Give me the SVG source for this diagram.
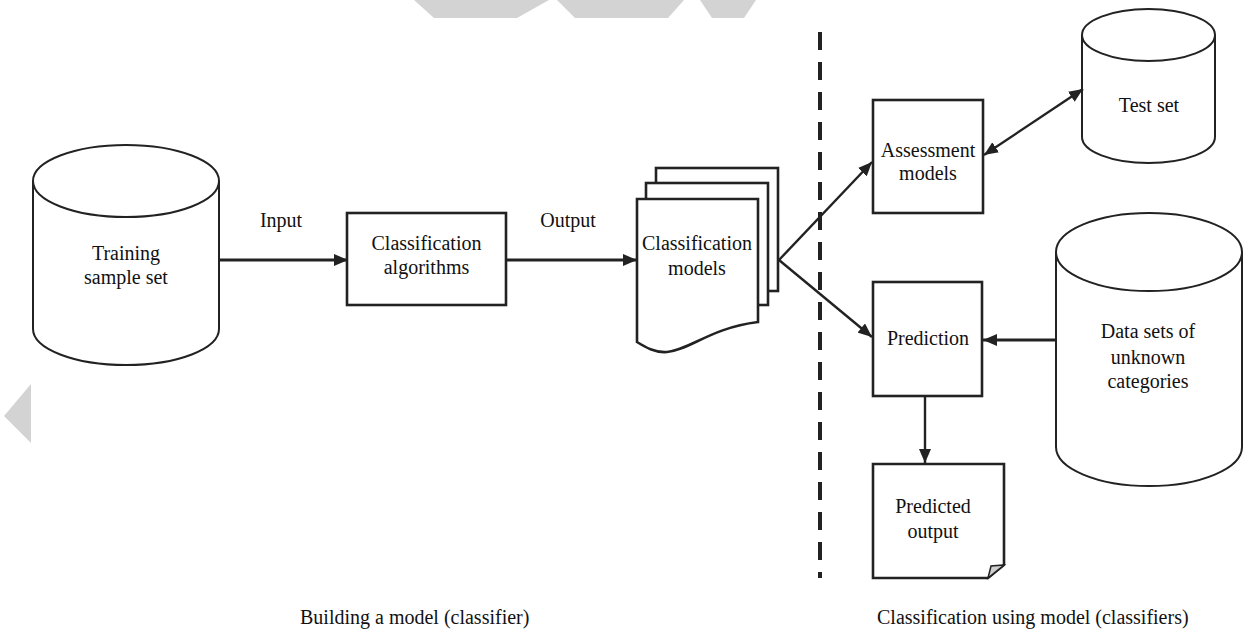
<svg xmlns="http://www.w3.org/2000/svg" width="1243" height="632" viewBox="0 0 1243 632">
<style>
  .box{fill:#fff;stroke:#222;stroke-width:2.6}
  .cyl{fill:#fff;stroke:#222;stroke-width:2}
  .t{font-family:"Liberation Serif","Times New Roman",serif;font-size:20px;fill:#111;text-anchor:middle}
  .tl{font-family:"Liberation Serif","Times New Roman",serif;font-size:20px;fill:#111}
  .c{fill:none;stroke:#222;stroke-width:2.4}
  .ch{fill:none;stroke:#222;stroke-width:3}
  .wm{fill:#d3d3d3}
</style>
<defs>
  <marker id="ah" viewBox="0 0 14 12" refX="14" refY="6" markerWidth="14" markerHeight="12" markerUnits="userSpaceOnUse" orient="auto-start-reverse">
    <path d="M0,0 L14,6 L0,12 Z" fill="#222"/>
  </marker>
</defs>
<rect width="1243" height="632" fill="#fff"/>
<g id="watermark">
  <polygon class="wm" points="4,416 31,384 31,443"/>
  <polygon class="wm" points="414,0 549,0 517,18 434,18"/>
  <polygon class="wm" points="557,0 684,0 668,18 575,18"/>
  <polygon class="wm" points="700,0 756,0 744,18 712,18"/>
</g>
<g id="divider">
  <line x1="820" y1="32" x2="820" y2="578" stroke="#222" stroke-width="4" stroke-dasharray="18 12"/>
</g>
<g id="training">
  <path class="cyl" d="M33,181 V329 A93,36 0 0 0 219,329 V181"/>
  <ellipse class="cyl" cx="126" cy="181" rx="93" ry="36"/>
  <text class="t" x="126" y="260">Training</text>
  <text class="t" x="126" y="284">sample set</text>
</g>
<g id="algorithms">
  <rect class="box" x="347" y="213" width="159" height="92"/>
  <text class="t" x="426.5" y="250">Classification</text>
  <text class="t" x="426.5" y="274">algorithms</text>
</g>
<g id="models">
  <rect class="box" x="656" y="168" width="122" height="123"/>
  <rect class="box" x="646" y="183" width="122" height="122"/>
  <path class="box" d="M637,199 H758 V322 C710,328 690,350 667,352 C655,353 645,347 637,342 Z"/>
  <text class="t" x="697" y="250">Classification</text>
  <text class="t" x="697" y="275">models</text>
</g>
<g id="assessment">
  <rect class="box" x="873" y="100" width="110" height="113"/>
  <text class="t" x="928" y="157">Assessment</text>
  <text class="t" x="928" y="180">models</text>
</g>
<g id="testset">
  <path class="cyl" d="M1082,35 V137 A66.5,26 0 0 0 1215,137 V35"/>
  <ellipse class="cyl" cx="1148.5" cy="35" rx="66.5" ry="26"/>
  <text class="t" x="1149" y="112">Test set</text>
</g>
<g id="prediction">
  <rect class="box" x="873" y="282" width="109" height="114"/>
  <text class="t" x="928" y="345">Prediction</text>
</g>
<g id="unknown">
  <path class="cyl" d="M1056,252 V447 A93,39 0 0 0 1242,447 V252"/>
  <ellipse class="cyl" cx="1149" cy="252" rx="93" ry="39"/>
  <text class="t" x="1148" y="338">Data sets of</text>
  <text class="t" x="1148" y="364">unknown</text>
  <text class="t" x="1148" y="388">categories</text>
</g>
<g id="predicted">
  <path class="box" d="M873,464 H1004 V565 L988,578 H873 Z"/>
  <path d="M1004,565 L988,578 L991,566 Z" fill="#cfcfcf" stroke="#222" stroke-width="1.5"/>
  <text class="t" x="933" y="513">Predicted</text>
  <text class="t" x="933" y="538">output</text>
</g>
<g id="connectors">
  <line class="ch" x1="219" y1="260" x2="348" y2="260" marker-end="url(#ah)"/>
  <line class="ch" x1="506" y1="260" x2="637" y2="260" marker-end="url(#ah)"/>
  <line class="c" x1="779" y1="260" x2="872" y2="162" marker-end="url(#ah)"/>
  <line class="c" x1="779" y1="260" x2="872" y2="337" marker-end="url(#ah)"/>
  <line class="c" x1="984" y1="155" x2="1083" y2="89" marker-start="url(#ah)" marker-end="url(#ah)"/>
  <line class="ch" x1="1056" y1="340" x2="983" y2="340" marker-end="url(#ah)"/>
  <line class="c" x1="925" y1="396" x2="925" y2="463" marker-end="url(#ah)"/>
</g>
<g id="labels">
  <text class="t" x="281" y="227">Input</text>
  <text class="t" x="568" y="227">Output</text>
  <text class="tl" x="300" y="624">Building a model (classifier)</text>
  <text class="tl" x="877" y="624">Classification using model (classifiers)</text>
</g>
</svg>
